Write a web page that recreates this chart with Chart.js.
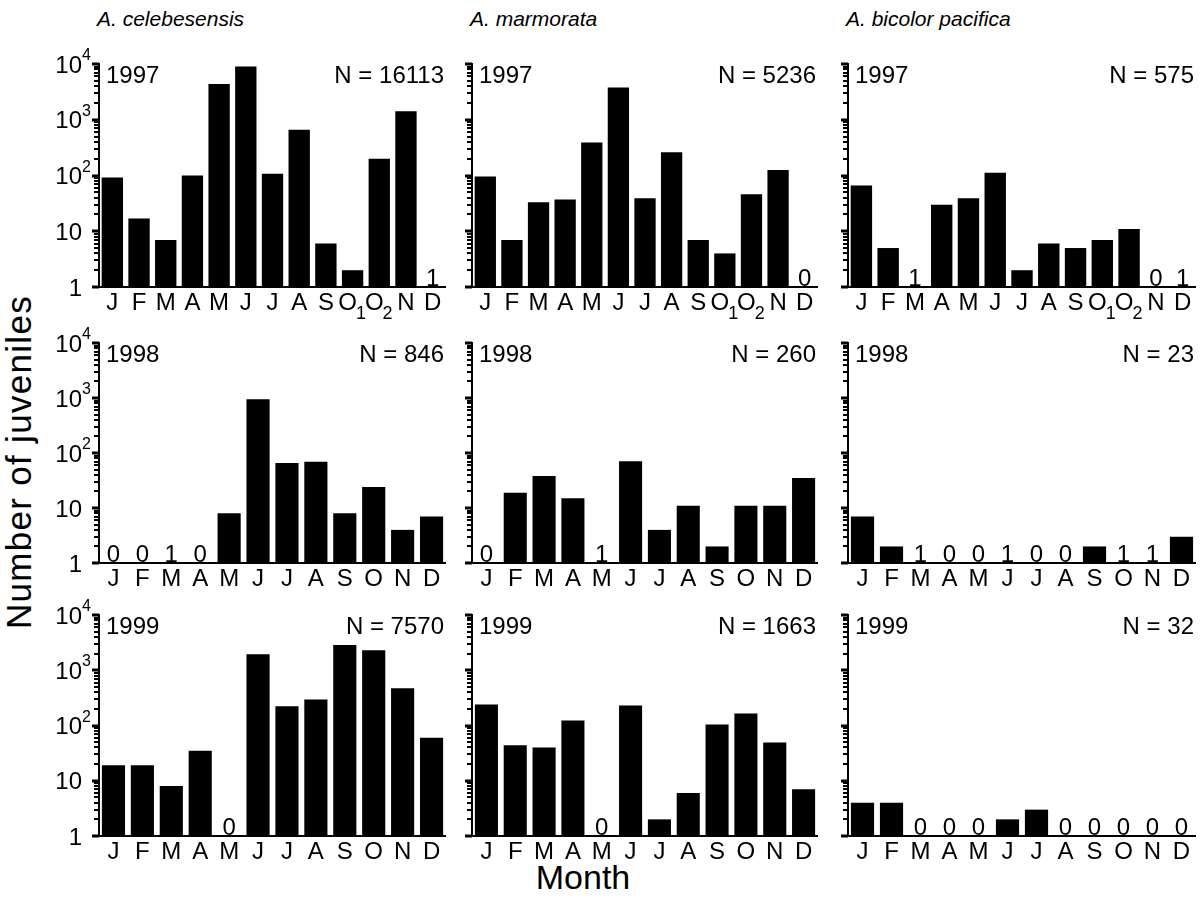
<!DOCTYPE html>
<html><head><meta charset="utf-8">
<script src="https://cdn.jsdelivr.net/npm/chart.js@4.4.1/dist/chart.umd.min.js"></script>
<style>
html,body{margin:0;padding:0;background:#fff}
body{width:1200px;height:911px;overflow:hidden;position:relative;font-family:"Liberation Sans",Arial,Helvetica,sans-serif;color:#000}
canvas{position:absolute;left:0;top:0}
.title{position:absolute;top:8px;font-size:21px;line-height:21px;font-style:italic;white-space:nowrap}
#ylab{position:absolute;left:18px;top:462px;font-size:35px;line-height:35px;letter-spacing:1.3px;white-space:nowrap;transform:translate(-50%,-50%) rotate(-90deg)}
#xlab{position:absolute;left:583px;top:860px;font-size:34px;line-height:34px;white-space:nowrap;transform:translateX(-50%)}
</style></head><body>
<div class="title" style="left:97px">A. celebesensis</div>
<div class="title" style="left:470px">A. marmorata</div>
<div class="title" style="left:846px">A. bicolor pacifica</div>
<div id="ylab">Number of juveniles</div>
<div id="xlab">Month</div>
<canvas id="c0" width="1200" height="911"></canvas>
<canvas id="c1" width="1200" height="911"></canvas>
<canvas id="c2" width="1200" height="911"></canvas>
<canvas id="c3" width="1200" height="911"></canvas>
<canvas id="c4" width="1200" height="911"></canvas>
<canvas id="c5" width="1200" height="911"></canvas>
<canvas id="c6" width="1200" height="911"></canvas>
<canvas id="c7" width="1200" height="911"></canvas>
<canvas id="c8" width="1200" height="911"></canvas>
<script>
// ---- categories / tick labels ----
const months1997 = ['J','F','M','A','M','J','J','A','S','O','O','N','D'];
const subs1997   = ['','','','','','','','','','1','2','',''];
const months     = ['J','F','M','A','M','J','J','A','S','O','N','D'];
const subsNone   = ['','','','','','','','','','','',''];
const yTickValues = [1, 10, 100, 1000, 10000];
const yTickBase   = ['1','10','10','10','10'];
const yTickPow    = ['','','2','3','4'];
const years = ['1997','1998','1999'];
// ---- series values (number of juveniles) ----
const cel1997 = [92, 17, 7, 100, 4400, 9000, 108, 660, 6, 2, 200, 1420, 1];
const mar1997 = [96, 7, 33, 37, 390, 3800, 39, 260, 7, 4, 46, 125, 0];
const bic1997 = [66, 5, 1, 30, 39, 112, 2, 6, 5, 7, 11, 0, 1];
const cel1998 = [0, 0, 1, 0, 8, 950, 66, 69, 8, 24, 4, 7];
const mar1998 = [0, 19, 38, 15, 1, 71, 4, 11, 2, 11, 11, 35];
const bic1998 = [7, 2, 1, 0, 0, 1, 0, 0, 2, 1, 1, 3];
const cel1999 = [19, 19, 8, 35, 0, 1950, 223, 297, 2850, 2300, 470, 60];
const mar1999 = [240, 44, 40, 123, 0, 230, 2, 6, 104, 165, 49, 7];
const bic1999 = [4, 4, 0, 0, 0, 2, 3, 0, 0, 0, 0, 0];
const totals = [['16113','5236','575'],['846','260','23'],['7570','1663','32']];

const series = [
  [cel1997, mar1997, bic1997],
  [cel1998, mar1998, bic1998],
  [cel1999, mar1999, bic1999]
];
const colBox = [[99,446],[472,818],[848,1196]];
const rowBox = [[64,287],[343,563],[615,836]];
const FONT = '"Liberation Sans", Arial, Helvetica, sans-serif';

function makePanel(r, c) {
  const vals = series[r][c];
  const labels = r === 0 ? months1997 : months;
  const subs = r === 0 ? subs1997 : subsNone;
  const [L, R] = colBox[c];
  const [T, B] = rowBox[r];
  const deco = {
    id: 'deco' + r + c,
    afterDraw(chart) {
      const ctx = chart.ctx;
      const xs = chart.scales.x, ys = chart.scales.y;
      const ca = chart.chartArea;
      ctx.save();
      ctx.fillStyle = '#000';
      ctx.strokeStyle = '#000';
      // x axis line (extends slightly left of y axis)
      ctx.lineWidth = 2;
      ctx.beginPath();
      ctx.moveTo(ca.left - 6, ys.getPixelForValue(1));
      ctx.lineTo(ca.right, ys.getPixelForValue(1));
      ctx.stroke();
      // y ticks: major + minor, pointing outward
      for (let d = 0; d <= 4; d++) {
        for (let k = 1; k <= 9; k++) {
          if (d === 4 && k > 1) break;
          const v = k * Math.pow(10, d);
          const y = Math.round(ys.getPixelForValue(v));
          const major = k === 1;
          ctx.fillRect(ca.left - (major ? 7 : 5), y - (major ? 1.5 : 1), major ? 7 : 5, major ? 3 : 2);
        }
      }
      // y tick labels (first column only)
      if (c === 0) {
        ctx.textBaseline = 'alphabetic';
        yTickValues.forEach((v, i) => {
          const y = ys.getPixelForValue(v);
          ctx.font = '24px ' + FONT;
          ctx.textAlign = 'right';
          ctx.fillText(yTickBase[i], ca.left - 17, y + 8.5);
          if (yTickPow[i]) {
            ctx.font = '16px ' + FONT;
            ctx.textAlign = 'left';
            ctx.fillText(yTickPow[i], ca.left - 17, y - 4);
          }
        });
      }
      // x tick labels
      ctx.textBaseline = 'alphabetic';
      ctx.textAlign = 'left';
      labels.forEach((lab, i) => {
        const cx = xs.getPixelForValue(i);
        ctx.font = '24px ' + FONT;
        const w1 = ctx.measureText(lab).width;
        let w2 = 0;
        if (subs[i]) { ctx.font = '18px ' + FONT; w2 = ctx.measureText(subs[i]).width; }
        const x0 = cx - (w1 + w2) / 2;
        ctx.font = '24px ' + FONT;
        ctx.fillText(lab, x0, ca.bottom + 23);
        if (subs[i]) {
          ctx.font = '18px ' + FONT;
          ctx.fillText(subs[i], x0 + w1 - 1, ca.bottom + 32);
        }
      });
      // 0 / 1 counts printed above empty categories
      ctx.font = '24px ' + FONT;
      ctx.textAlign = 'center';
      vals.forEach((v, i) => {
        if (v <= 1) ctx.fillText(String(v), xs.getPixelForValue(i), ca.bottom - 1.5);
      });
      // year and N
      ctx.textAlign = 'left';
      ctx.fillText(years[r], ca.left + 7, ca.top + 18.5);
      ctx.textAlign = 'right';
      ctx.fillText('N = ' + totals[r][c], ca.right - 2, ca.top + 18.5);
      ctx.restore();
    }
  };
  new Chart(document.getElementById('c' + (r * 3 + c)), {
    type: 'bar',
    data: {
      labels: labels.map((l, i) => l + subs[i]),
      datasets: [{
        data: vals.map(v => (v > 1 ? v : null)),
        backgroundColor: '#000',
        borderWidth: 0,
        categoryPercentage: 1.0,
        barPercentage: 0.8
      }]
    },
    options: {
      responsive: false,
      animation: false,
      devicePixelRatio: 1,
      layout: { padding: { left: L, right: 1200 - R, top: T, bottom: 911 - B } },
      plugins: { legend: { display: false }, tooltip: { enabled: false }, title: { display: false } },
      scales: {
        x: {
          type: 'category',
          offset: true,
          grid: { display: false, drawTicks: false },
          border: { display: false },
          ticks: { display: false }
        },
        y: {
          type: 'logarithmic',
          min: 1, max: 10000,
          grid: { display: false, drawTicks: false },
          border: { display: true, color: '#000', width: 2 },
          ticks: { display: false }
        }
      }
    },
    plugins: [deco]
  });
}
for (let r = 0; r < 3; r++) for (let c = 0; c < 3; c++) makePanel(r, c);
</script>
</body></html>
